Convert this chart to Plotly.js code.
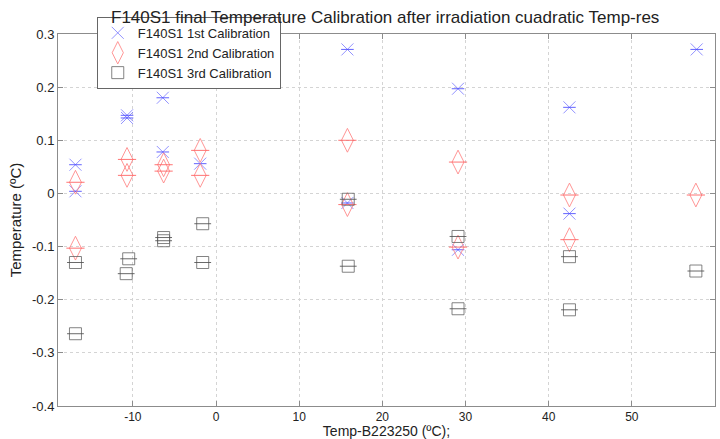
<!DOCTYPE html>
<html>
<head>
<meta charset="utf-8">
<script src="https://cdn.plot.ly/plotly-3.0.1.min.js"></script>
<style>html,body{margin:0;padding:0;background:#fff;}#chart{width:720px;height:439px;}</style>
</head>
<body>
<div id="chart"></div>
<script>
// Series names
const seriesNames = ["F140S1 1st Calibration", "F140S1 2nd Calibration", "F140S1 3rd Calibration"];

// 1st calibration
const x1 = [-16.9, -16.9, -10.7, -10.7, -6.4, -6.4, -1.9, 15.8, 15.8, 29.1, 29.1, 42.5, 42.5, 57.8];
const y1 = [0.054, 0.004, 0.147, 0.142, 0.180, 0.078, 0.056, 0.271, -0.018, 0.197, -0.106, 0.162, -0.038, 0.271];

// 2nd calibration
const x2 = [-16.9, -16.9, -10.7, -10.7, -6.3, -6.3, -1.9, -1.9, 15.8, 15.8, 29.1, 29.1, 42.5, 42.5, 57.7];
const y2 = [0.021, -0.103, 0.064, 0.034, 0.054, 0.042, 0.081, 0.034, 0.100, -0.021, 0.059, -0.101, -0.003, -0.087, -0.003];

// 3rd calibration
const x3 = [-16.9, -16.9, -10.5, -10.8, -6.3, -6.3, -1.6, -1.6, 15.9, 15.9, 29.1, 29.1, 42.5, 42.5, 57.7];
const y3 = [-0.130, -0.264, -0.123, -0.151, -0.083, -0.089, -0.057, -0.130, -0.011, -0.137, -0.081, -0.217, -0.119, -0.219, -0.146];

// Tick labels
const xTickVals = [-10, 0, 10, 20, 30, 40, 50, 60];
const xTickText = ["-10", "0", "10", "20", "30", "40", "50", "60"];
const yTickVals = [-0.4, -0.3, -0.2, -0.1, 0, 0.1, 0.2, 0.3];
const yTickText = ["-0.4", "-0.3", "-0.2", "-0.1", "0", "0.1", "0.2", "0.3"];

const blue = "rgba(120,120,255,0.8)";
const red = "rgba(255,130,130,0.85)";
const gray = "rgba(100,100,100,0.8)";

const FONT = "Arial, 'Liberation Sans', sans-serif";

function mk(x, y, name, symbol, size, color) {
  return {type: "scatter", mode: "markers", x: x, y: y, name: name,
    marker: {symbol: symbol, size: size, color: color, line: {color: color, width: 1}},
    hoverinfo: "skip"};
}
function dash(x, y, size, color) {
  return {type: "scatter", mode: "markers", x: x, y: y, showlegend: false,
    marker: {symbol: "line-ew-open", size: size, color: color, line: {color: color, width: 1}},
    hoverinfo: "skip"};
}

const traces = [
  mk(x1, y1, seriesNames[0], "x-thin-open", 12, blue),
  dash(x1, y1, 9, "rgba(70,70,255,0.85)"),
  mk(x2, y2, seriesNames[1], "diamond-tall-open", 17, red),
  dash(x2, y2, 13, "rgba(255,90,90,0.85)"),
  mk(x3, y3, seriesNames[2], "square-open", 12, gray),
  dash(x3, y3, 12, "rgba(80,80,80,0.85)")
];

const axisCommon = {
  showline: true, mirror: "ticks", linecolor: "#8c8c8c", linewidth: 1,
  ticks: "inside", ticklen: 5, tickcolor: "#8c8c8c",
  showgrid: true, gridcolor: "#d4d4d4", griddash: "dot", gridwidth: 1,
  zeroline: false, tickfont: {family: FONT, size: 13, color: "#222"}
};

const layout = {
  width: 720, height: 439,
  margin: {l: 58, r: 5, t: 34, b: 33},
  paper_bgcolor: "#fff", plot_bgcolor: "#fff",
  font: {family: FONT, color: "#222"},
  title: {text: "F140S1 final Temperature Calibration after irradiation cuadratic Temp-res",
    font: {size: 17, color: "#222"}, x: 0.535, xanchor: "center", y: 0.961, yanchor: "middle", yref: "container"},
  xaxis: Object.assign({}, axisCommon, {range: [-19, 60], tickmode: "array", tickvals: xTickVals, ticktext: xTickText,
    tickfont: {family: FONT, size: 12, color: "#222"},
    title: {text: "Temp-B223250 (ºC);", font: {size: 14, color: "#222"}, standoff: 4}}),
  yaxis: Object.assign({}, axisCommon, {range: [-0.4, 0.3], tickmode: "array", tickvals: yTickVals, ticktext: yTickText,
    title: {text: "Temperature (ºC)", font: {size: 15, color: "#222"}, standoff: 6}}),
  showlegend: true,
  legend: {x: 0.059, y: 1.046, xanchor: "left", yanchor: "top", bgcolor: "#fff",
    bordercolor: "#666", borderwidth: 1, font: {size: 13, color: "#222"},
    tracegroupgap: 0, itemwidth: 30}
};

Plotly.newPlot("chart", traces, layout, {displayModeBar: false, staticPlot: true});
</script>
</body>
</html>
